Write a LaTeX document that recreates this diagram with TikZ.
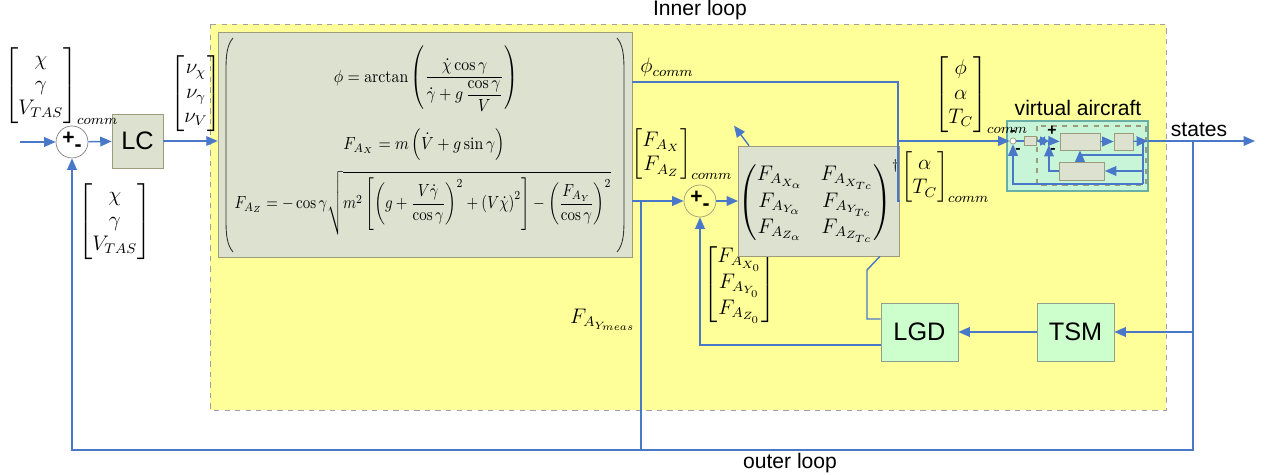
\documentclass[tikz,border=0pt]{standalone}
\usepackage{amsmath}
\usepackage{fontspec}
\setsansfont{Liberation Sans}
\usetikzlibrary{arrows.meta}
\definecolor{lineblue}{HTML}{4A78C8}
\definecolor{loopyellow}{HTML}{FFFF99}
\definecolor{loopedge}{HTML}{A0A0A0}
\definecolor{blockgray}{HTML}{DCE1D0}
\definecolor{blockedge}{HTML}{9C9C7C}
\definecolor{blockgreen}{HTML}{CCFFCC}
\definecolor{greenedge}{HTML}{8FA08F}
\definecolor{vagreen}{HTML}{C8F5D8}
\definecolor{vaedge}{HTML}{6AAFA5}
\newcommand{\eqfit}[2][0.9]{\scalebox{#1}[1]{#2}}
\tikzset{sig/.style={draw=lineblue,line width=0.8pt},
  sigarrow/.style={sig,-{Triangle[length=6.5pt,width=5.5pt]}},
  block/.style={draw=blockedge,fill=blockgray,inner sep=0pt},
  gblock/.style={draw=greenedge,fill=blockgreen,minimum width=1.54cm,minimum height=1.16cm,font=\sffamily\Large},
  sumnode/.style={circle,draw=blockedge,minimum size=0.64cm,inner sep=0pt,font=\sffamily\bfseries\large},
  vec/.style={inner sep=0pt,anchor=north west},
  eqn/.style={font=\normalsize,inner sep=0pt},
  looplabel/.style={font=\sffamily\large},
  paren/.style={draw=black!80,line width=0.5pt}}
\begin{document}
\begin{tikzpicture}[x=0.02cm,y=-0.02cm,font=\large]
\useasboundingbox (0,0) rectangle (1269,475);
% inner loop
\draw[fill=loopyellow,draw=loopedge,dashed] (210,24) rectangle (1166,410);
\node[looplabel] (innerlbl) at (700,10) {Inner loop};
\node[looplabel] (outerlbl) at (790,463) {outer loop};

% outer loop: LC
\coordinate (in) at (20,142);
\node[sumnode,draw=black!50] (sum1) at (72,142) {+\raisebox{-0.6ex}{-}};
\node[block,minimum width=1.02cm,minimum height=1.08cm,font=\sffamily\Large] (lc) at (137.5,141) {LC};
\node[vec] (vcomm) at (4,47) {$\begin{bmatrix}\chi\\ \gamma\\ V_{TAS}\end{bmatrix}_{comm}$};
\node[vec] (vnu) at (170,55) {$\begin{bmatrix}\nu_\chi\\ \nu_\gamma\\ \nu_V\end{bmatrix}$};
\node[vec] (vfb) at (78,183) {$\begin{bmatrix}\chi\\ \gamma\\ V_{TAS}\end{bmatrix}$};

% dynamic inversion
\node[block,minimum width=8.28cm,minimum height=4.5cm] (eqbox) at (425,144.5) {};
\draw[paren] (233,38) .. controls (227,45) and (226,55) .. (226,70) -- (226,220) .. controls (226,235) and (227,245) .. (233,252);
\draw[paren] (617,38) .. controls (623,45) and (624,55) .. (624,70) -- (624,220) .. controls (624,235) and (623,245) .. (617,252);
\node[eqn] (eqphi) at (426,79) {\eqfit{$\phi = \arctan\left(\dfrac{\dot\chi\cos\gamma}{\dot\gamma + g\,\dfrac{\cos\gamma}{V}}\right)$}};
\node[eqn] (eqfx) at (424,145) {\eqfit{$F_{A_X} = m\left(\dot V + g\sin\gamma\right)$}};
\node[eqn] (eqfz) at (423,203) {\eqfit[0.85]{$F_{A_Z} = -\cos\gamma\sqrt{m^2\left[\left(g+\dfrac{V\dot\gamma}{\cos\gamma}\right)^2 + \left(V\dot\chi\right)^2\right] - \left(\dfrac{F_{A_Y}}{\cos\gamma}\right)^2}$}};

% allocation
\node[vec] (vphi) at (640,58) {$\phi_{comm}$};
\node[vec] (vfa) at (631,128) {$\begin{bmatrix}F_{A_X}\\ F_{A_Z}\end{bmatrix}_{comm}$};
\node[vec] (vf0) at (703,245) {$\begin{bmatrix}F_{A_{X_0}}\\ F_{A_{Y_0}}\\ F_{A_{Z_0}}\end{bmatrix}$};
\node[anchor=east,inner sep=1pt] (vmeas) at (638,320) {$F_{A_{Y_{meas}}}$};
\node[sumnode,draw=blockedge] (sum2) at (700,201) {+\raisebox{-0.6ex}{-}};
\node[block,minimum width=2.28cm,minimum height=2.2cm] (mat) at (819,201) {$\begin{pmatrix}F_{A_{X_\alpha}} & F_{A_{X_{Tc}}}\\ F_{A_{Y_\alpha}} & F_{A_{Y_{Tc}}}\\ F_{A_{Z_\alpha}} & F_{A_{Z_{Tc}}}\end{pmatrix}^{\dagger}$};
\node[vec] (vat) at (901,151) {$\begin{bmatrix}\alpha\\ T_C\end{bmatrix}_{comm}$};
\node[gblock] (lgd) at (919.5,332) {LGD};
\node[gblock] (tsm) at (1075.5,332) {TSM};

% virtual aircraft
\node[draw=vaedge,fill=vagreen,line width=0.8pt,minimum width=2.82cm,minimum height=1.4cm] (va) at (1077.5,156) {};
\node[looplabel] (valbl) at (1078,108) {virtual aircraft};
\node[vec] (vpat) at (934,56) {$\begin{bmatrix}\phi\\ \alpha\\ T_C\end{bmatrix}_{comm}$};
\draw[draw=blockedge,dashed,line width=0.6pt] (1037,126) rectangle (1146,185);
\node[circle,draw=blockedge,fill=white,minimum size=0.12cm,inner sep=0pt] (vasum) at (1013,141) {};
\node[block,minimum width=0.24cm,minimum height=0.18cm] (vagain) at (1030,141) {};
\coordinate (vains) at (1049,141);
\node[block,minimum width=0.8cm,minimum height=0.34cm] (vaa) at (1080,141.5) {};
\node[block,minimum width=0.38cm,minimum height=0.34cm] (vab) at (1123.5,141.5) {};
\node[block,minimum width=0.9cm,minimum height=0.36cm] (vac) at (1082,171) {};
\coordinate (vaout) at (1148,141);
\node[font=\sffamily\bfseries\small,inner sep=0pt] at (1013,133) {-};
\node[font=\sffamily\bfseries\small,inner sep=0pt] at (1018,151) {-};
\node[font=\sffamily\bfseries\small,inner sep=0pt] at (1052,131) {+};
\node[font=\sffamily\bfseries\small,inner sep=0pt] at (1053,151) {-};
\draw[sig] (vasum) -- (vagain);
\draw[sig,{Triangle[length=5pt,width=5pt]}-{Triangle[length=5pt,width=5pt]}] (vagain.east) -- (vains);
\draw[sigarrow] (vains) -- (vaa.west);
\draw[sigarrow] (vaa) -- (vab);
\draw[sigarrow] (vab) -- (vaout);
\draw[sig] (1143,141) -- (1143,184);
\draw[sigarrow] (1143,155) -| (vaa.south);
\draw[sigarrow] (1143,171) -- (vac.east);
\draw[sigarrow] (vac.west) -| ([yshift=-0.08cm]vains);
\draw[sigarrow] (1143,184) -| (vasum.south);
\node[font=\sffamily\large] (states) at (1199,130) {states};

% connectors
\draw[sigarrow] (in) -- (sum1);
\draw[sigarrow] (sum1) -- (lc);
\draw[sigarrow] (lc) -- (eqbox.west |- lc);
\draw[sig] (eqbox.east |- 0,82) -- (898,82) -- (898,141);
\draw[sigarrow] (eqbox.east |- sum2) -- (sum2);
\draw[sigarrow] (sum2) -- (mat);
\draw[sigarrow] ([xshift=0.22cm]mat.north west) -- ++(-15,-20);
\draw[sig] (mat.east) -- (898,201) -- (898,141);
\draw[sigarrow] (898,141) -- (vasum.west);
\draw[sig] ([xshift=-0.4cm]mat.south east) -- (867,270) -- (867,319) -- (lgd.west |- 0,319);
\draw[sigarrow] (lgd.west |- 0,345) -| (sum2.south);
\draw[sigarrow] (tsm) -- (lgd);
\draw[sigarrow] (vaout) -- (1255,141);
\draw[sigarrow] (1193,141) -- (1193,332) -- (tsm.east);
\draw[sigarrow] (1193,332) -- (1193,450) -- (72,450) -- (sum1.south);
\draw[sig] (641,450) -- (641,201);
\end{tikzpicture}
\end{document}
